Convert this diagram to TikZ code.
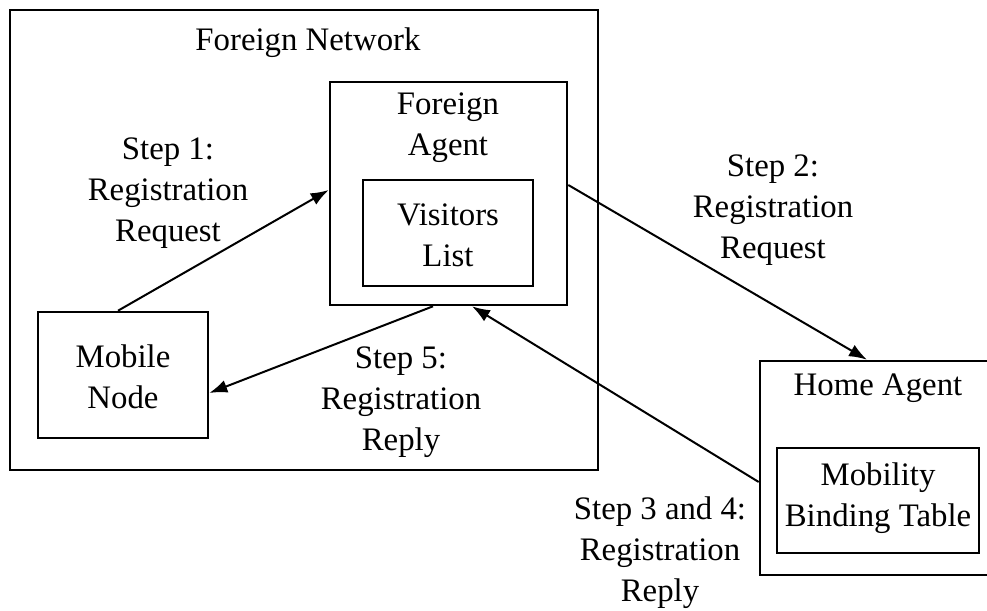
\documentclass[tikz,border=0pt]{standalone}
\usepackage{fontspec}
\setmainfont{Liberation Serif}
\usetikzlibrary{arrows.meta,positioning}
\begin{document}
\begin{tikzpicture}[x=0.5pt,y=-0.5pt,>={Latex[length=9pt,width=6.5pt]},box/.style={draw,line width=1.3pt,inner sep=0pt},txt/.style={align=center,inner sep=0pt,font=\fontsize{16.4}{20.5}\selectfont},link/.style={->,line width=1pt}]
\useasboundingbox (0,0) rectangle (987,611);
\node[box,minimum width=294pt,minimum height=230pt] (net) at (304,240) {};
\node[box,minimum width=118.5pt,minimum height=111.5pt] (fa) at (448.5,193.5) {};
\node[box,minimum width=85pt,minimum height=53pt] (vl) at (448,233) {};
\node[box,minimum width=85pt,minimum height=63pt] (mn) at (123,375) {};
\node[box,minimum width=116pt,minimum height=107pt] (ha) at (876,468) {};
\node[box,minimum width=101pt,minimum height=52.5pt] (mbt) at (878,500.5) {};
\node[txt] (netname) at (308,43) {Foreign Network};
\node[txt] (faname) at (448,128) {Foreign\\Agent};
\node[txt] (vlname) at (448,235) {Visitors\\List};
\node[txt] (mnname) at (123,377) {Mobile\\Node};
\node[txt] (haname) at (878,388) {Home Agent};
\node[txt] (mbtname) at (878,498) {Mobility\\Binding Table};
\node[txt] (step1) at (168,193) {Step 1:\\Registration\\Request};
\node[txt] (step2) at (773,210) {Step 2:\\Registration\\Request};
\node[txt] (step34) at (660,553) {Step 3 and 4:\\Registration\\Reply};
\node[txt] (step5) at (401,402) {Step 5:\\Registration\\Reply};
\draw[link] ([xshift=-2.5pt]mn.north)--([yshift=1.75pt]fa.west);
\draw[link] ([yshift=4.25pt]fa.east)--([xshift=-4.5pt]ha.north);
\draw[link] ([yshift=-7pt]ha.west)--([xshift=11.75pt]fa.south);
\draw[link] ([xshift=-7.75pt]fa.south)--([yshift=-9pt]mn.east);
\end{tikzpicture}
\end{document}
